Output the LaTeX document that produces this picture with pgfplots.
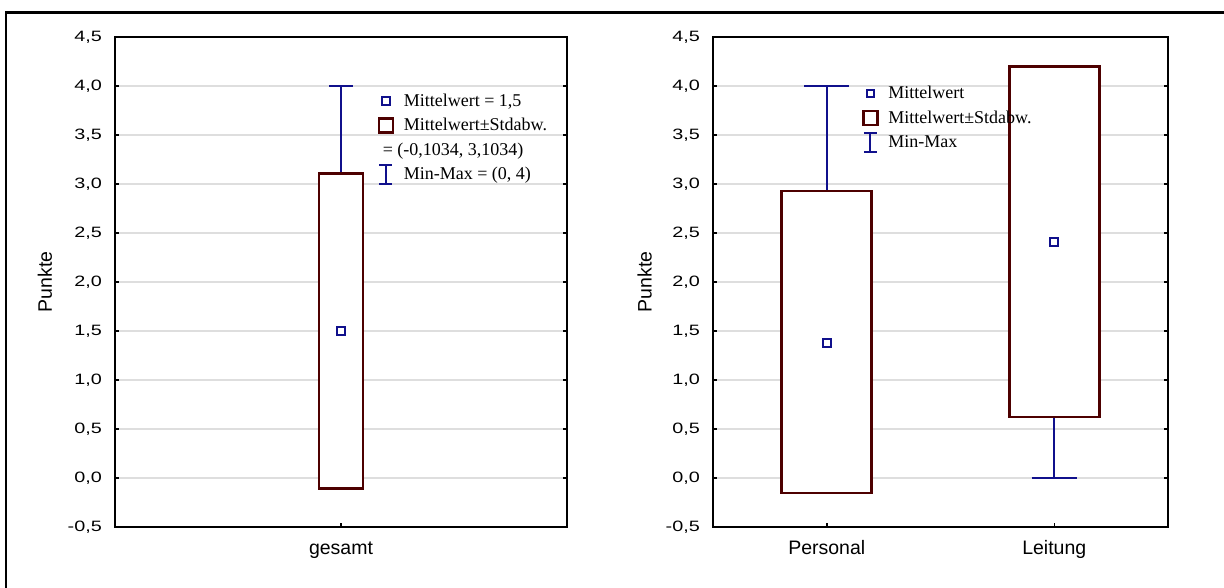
\documentclass[border=0pt]{standalone}
\usepackage{pgfplots}
\pgfplotsset{compat=1.18}
\usepackage{fontspec}
\setmainfont{Liberation Sans}
\newfontfamily\tnr{Liberation Serif}
\newfontfamily\tickfont[FakeStretch=1.32]{Liberation Sans}
\definecolor{boxc}{RGB}{77,0,0}
\definecolor{navyc}{RGB}{16,16,140}
\definecolor{gridc}{RGB}{222,222,222}

\pgfplotsset{
  myaxis/.style={
    scale only axis, height=490pt,
    ymin=-0.5, ymax=4.5,
    ytick={-0.5,0,0.5,1,1.5,2,2.5,3,3.5,4,4.5},
    ymajorgrids, major grid style={gridc, line width=1.3pt},
    axis line style={black, line width=1.7pt},
    tick style={black, line width=1.5pt},
    major tick length=4pt,
    xtick pos=bottom,
    yticklabel style={font=\tickfont\fontsize{15}{15}\selectfont, inner sep=0pt, anchor=east, xshift=-13pt},
    xticklabel style={font=\fontsize{19.5}{19.5}\selectfont, inner sep=0pt, anchor=base, yshift=-28pt},
    /pgf/number format/.cd, use comma, fixed, fixed zerofill, precision=1, assume math mode=true,
    /pgfplots/.cd,
    ylabel={Punkte},
    ylabel style={font=\fontsize{19.5}{19.5}\selectfont, anchor=center},
    legend cell align=left,
    legend style={draw=none, fill=none, inner sep=0pt, outer sep=0pt, anchor=north west,
      row sep=0pt, column sep=9.5pt,
      font=\tnr\fontsize{18}{18}\selectfont,
      nodes={inner sep=0pt, text height=16pt, text depth=8.4pt}},
  },
  whisk/.style={navyc, line width=1.9pt, forget plot},
  boxs/.style={boxc, line width=2.8pt, fill=white, forget plot},
  meanm/.style={only marks, mark=square, mark size=3.8pt, navyc, mark options={line width=2pt, solid}, forget plot},
  limg mean/.style={legend image code/.code={
      \path[draw=none, fill=none] (0pt,1.5pt) -- (16pt,1.5pt);
      \draw[navyc, line width=2pt, fill=none] (4.2pt,-2.3pt) rectangle (11.8pt,5.3pt);}},
  limg box/.style={legend image code/.code={
      \path[draw=none, fill=none] (0pt,1.5pt) -- (16pt,1.5pt);
      \draw[boxc, line width=2.8pt, fill=none] (1pt,-5.5pt) rectangle (15pt,8.5pt);}},
  limg wh/.style={legend image code/.code={
      \path[draw=none, fill=none] (0pt,1.5pt) -- (16pt,1.5pt);
      \draw[navyc, line width=1.9pt] (8pt,-8pt) -- (8pt,11pt);
      \draw[navyc, line width=1.9pt] (1.5pt,-8pt) -- (14.5pt,-8pt);
      \draw[navyc, line width=1.9pt] (1.5pt,11pt) -- (14.5pt,11pt);}},
}

\begin{document}
\begin{tikzpicture}
\path[use as bounding box] (0,0) rectangle (1224pt,588pt);
\draw[line width=2.4pt] (6pt,0pt) -- (6pt,575.5pt) -- (1224pt,575.5pt);

% left panel
\begin{axis}[myaxis, at={(115pt,61pt)}, anchor=south west, width=452pt,
  xmin=0, xmax=2, xtick={1}, xticklabels={gesamt},
  ylabel style={at={(rel axis cs:-0.155,0.5)}},
  legend style={at={(0.5808,0.8910)}}]
\addplot[whisk] coordinates {(1,0) (1,4)};
\addplot[whisk] coordinates {(0.949,4) (1.051,4)};
\addplot[whisk] coordinates {(0.949,0) (1.051,0)};
\addplot[boxs] coordinates {(0.903,-0.1034) (1.097,-0.1034) (1.097,3.1034) (0.903,3.1034)} -- cycle;
\addplot[meanm] coordinates {(1,1.5)};
\addlegendimage{limg mean}
\addlegendentry{Mittelwert = 1,5}
\addlegendimage{limg box}
\addlegendentry{Mittelwert±Stdabw.}
\addlegendimage{empty legend}
\addlegendentry{\hspace*{-21pt}= (-0,1034, 3,1034)}
\addlegendimage{limg wh}
\addlegendentry{Min-Max = (0, 4)}
\end{axis}

% right panel
\begin{axis}[myaxis, at={(713pt,61pt)}, anchor=south west, width=455pt,
  xmin=0.5, xmax=2.5, xtick={1,2}, xticklabels={Personal,Leitung},
  ylabel style={at={(rel axis cs:-0.15,0.5)}},
  legend style={at={(0.3275,0.9062)}}]
\addplot[whisk] coordinates {(1,0) (1,4)};
\addplot[whisk] coordinates {(0.901,4) (1.099,4)};
\addplot[whisk] coordinates {(0.901,0) (1.099,0)};
\addplot[boxs] coordinates {(0.802,-0.153) (1.198,-0.153) (1.198,2.929) (0.802,2.929)} -- cycle;
\addplot[meanm] coordinates {(1,1.378)};
\addplot[whisk] coordinates {(2,0) (2,4)};
\addplot[whisk] coordinates {(1.901,4) (2.099,4)};
\addplot[whisk] coordinates {(1.901,0) (2.099,0)};
\addplot[boxs] coordinates {(1.802,0.622) (2.198,0.622) (2.198,4.2) (1.802,4.2)} -- cycle;
\addplot[meanm] coordinates {(2,2.408)};
\addlegendimage{limg mean}
\addlegendentry{Mittelwert}
\addlegendimage{limg box}
\addlegendentry{Mittelwert±Stdabw.}
\addlegendimage{limg wh}
\addlegendentry{Min-Max}
\end{axis}
\end{tikzpicture}
\end{document}
